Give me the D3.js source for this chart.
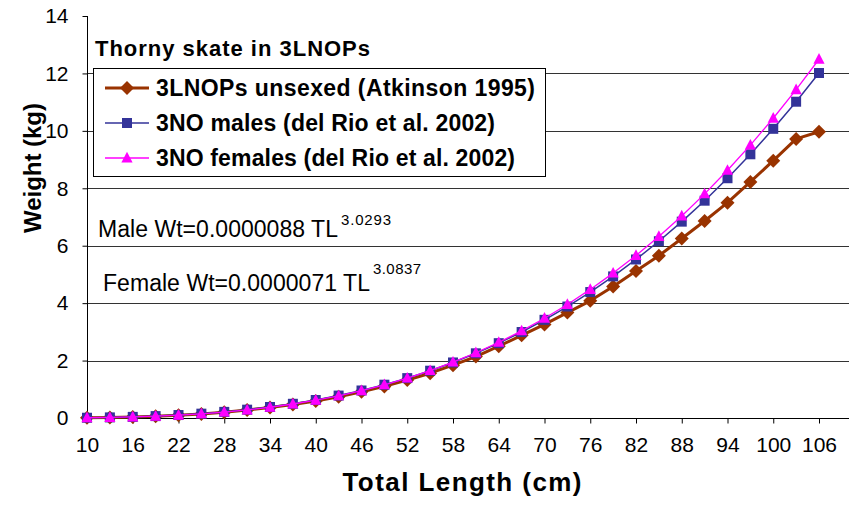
<!DOCTYPE html>
<html><head><meta charset="utf-8">
<script src="https://cdn.jsdelivr.net/npm/d3@7"></script>
<style>body{margin:0;background:#fff}svg{display:block;font-family:"Liberation Sans",Arial,sans-serif}</style>
</head><body><svg id="c" width="849" height="506"></svg>
<script>
// ---- data ----
const lengths = [10,13,16,19,22,25,28,31,34,37,40,43,46,49,52,55,58,61,64,67,70,73,76,79,82,85,88,91,94,97,100,103,106];
const unsexed = [0.009,0.020,0.037,0.062,0.097,0.143,0.202,0.275,0.365,0.470,0.595,0.740,0.910,1.100,1.320,1.560,1.840,2.140,2.500,2.880,3.260,3.670,4.080,4.580,5.120,5.650,6.250,6.860,7.500,8.220,8.960,9.720,9.970];
const males = [0.009,0.021,0.039,0.066,0.103,0.151,0.213,0.290,0.384,0.495,0.627,0.781,0.958,1.160,1.389,1.647,1.934,2.253,2.606,2.994,3.419,3.882,4.386,4.931,5.521,6.156,6.838,7.568,8.350,9.184,10.071,11.015,12.015];
const females = [0.009,0.019,0.037,0.062,0.098,0.145,0.206,0.282,0.375,0.487,0.619,0.773,0.952,1.157,1.390,1.652,1.946,2.273,2.636,3.036,3.475,3.955,4.478,5.046,5.661,6.324,7.038,7.805,8.626,9.503,10.439,11.435,12.494];
const xTickLabels = [10,16,22,28,34,40,46,52,58,64,70,76,82,88,94,100,106];
const yTicks = [0,2,4,6,8,10,12,14];
const seriesNames = ["3LNOPs unsexed (Atkinson 1995)","3NO males (del Rio et al. 2002)","3NO females (del Rio et al. 2002)"];

// ---- chart ----
const svg = d3.select("#c");
const L = 87, R = 849, T = 16, B = 418;
const x = d3.scalePoint().domain(lengths).range([L, 819]);
const y = d3.scaleLinear().domain([0, 14]).range([B, T]);

function txt(g, px, py, s, size, weight, len, anchor) {
  const t = g.append("text").attr("x", px).attr("y", py).text(s)
    .attr("font-size", size).attr("font-weight", weight || "normal").attr("fill", "#000");
  if (len) t.attr("textLength", len).attr("lengthAdjust", "spacing");
  if (anchor) t.attr("text-anchor", anchor);
  return t;
}

// gridlines
svg.append("g").selectAll("line").data(yTicks.filter(v => v > 0 && v < 14)).join("line")
  .attr("x1", L).attr("x2", R).attr("y1", d => Math.round(y(d)) + 0.5).attr("y2", d => Math.round(y(d)) + 0.5)
  .attr("stroke", "#333").attr("stroke-width", 1);

// y axis
const ya = svg.append("g").attr("transform", `translate(${L + 0.5},0)`)
  .call(d3.axisLeft(y).tickValues(yTicks).tickSize(5).tickPadding(14).tickFormat(d3.format("d")));
ya.select(".domain").attr("stroke", "#000").attr("d", `M0,${T}V${B}`);
ya.selectAll("line").attr("stroke", "#000");
ya.selectAll("text").attr("font-size", 21).attr("font-family", "Liberation Sans, Arial, sans-serif").attr("fill", "#000");

// x axis
const xa = svg.append("g").attr("transform", `translate(0,${B + 0.5})`)
  .call(d3.axisBottom(x).tickValues(xTickLabels).tickSize(5).tickPadding(14));
xa.select(".domain").attr("stroke", "#000").attr("d", `M${L},0H${R}`);
xa.selectAll("line").attr("stroke", "#000");
xa.selectAll("text").attr("font-size", 21).attr("font-family", "Liberation Sans, Arial, sans-serif").attr("fill", "#000");

// series
const diamond = r => `M0,${-r}L${r},0L0,${r}L${-r},0Z`;
const square = r => `M${-r},${-r}H${r}V${r}H${-r}Z`;
const tri = r => `M0,${-r * 1.1}L${r},${r * 0.8}L${-r},${r * 0.8}Z`;
const series = [
  {name: seriesNames[0], vals: unsexed, color: "#993300", lw: 3, mark: diamond(7)},
  {name: seriesNames[1], vals: males, color: "#333399", lw: 1.5, mark: square(5)},
  {name: seriesNames[2], vals: females, color: "#FF00FF", lw: 1.3, mark: tri(5.6)}
];
const line = d3.line().x((d, i) => x(lengths[i])).y(d => y(d));
series.forEach(s => {
  const g = svg.append("g");
  g.append("path").datum(s.vals).attr("d", line).attr("fill", "none")
    .attr("stroke", s.color).attr("stroke-width", s.lw).attr("stroke-linejoin", "round");
  g.selectAll("path.m").data(s.vals).join("path").attr("class", "m")
    .attr("transform", (d, i) => `translate(${x(lengths[i])},${y(d)})`)
    .attr("d", s.mark).attr("fill", s.color);
});

// title text
txt(svg, 95, 56, "Thorny skate in 3LNOPs", 22, "bold", 275);

// legend
const lg = svg.append("g");
lg.append("rect").attr("x", 93.5).attr("y", 68.5).attr("width", 452).attr("height", 108)
  .attr("fill", "#fff").attr("stroke", "#000").attr("stroke-width", 1);
const rowsY = [88, 123, 158];
const lens = [379, 339, 359];
series.forEach((s, i) => {
  lg.append("line").attr("x1", 105).attr("x2", 149).attr("y1", rowsY[i]).attr("y2", rowsY[i])
    .attr("stroke", s.color).attr("stroke-width", s.lw);
  lg.append("path").attr("transform", `translate(127,${rowsY[i]})`).attr("d", s.mark).attr("fill", s.color);
  txt(lg, 156, rowsY[i] + 8, s.name, 23, "bold", lens[i]);
});

// equations
txt(svg, 98, 237, "Male Wt=0.0000088 TL", 23, "normal", 240);
txt(svg, 341, 225, "3.0293", 15, "normal", 50);
txt(svg, 103, 291, "Female Wt=0.0000071 TL", 23, "normal", 267);
txt(svg, 373, 274, "3.0837", 15, "normal", 48);

// axis titles
txt(svg, 462, 491, "Total Length (cm)", 26, "bold", 239, "middle");
svg.append("text").attr("transform", "translate(41,168) rotate(-90)").attr("text-anchor", "middle")
  .attr("font-size", 24).attr("font-weight", "bold").attr("textLength", 130).attr("lengthAdjust", "spacing")
  .text("Weight (kg)");
</script></body></html>
